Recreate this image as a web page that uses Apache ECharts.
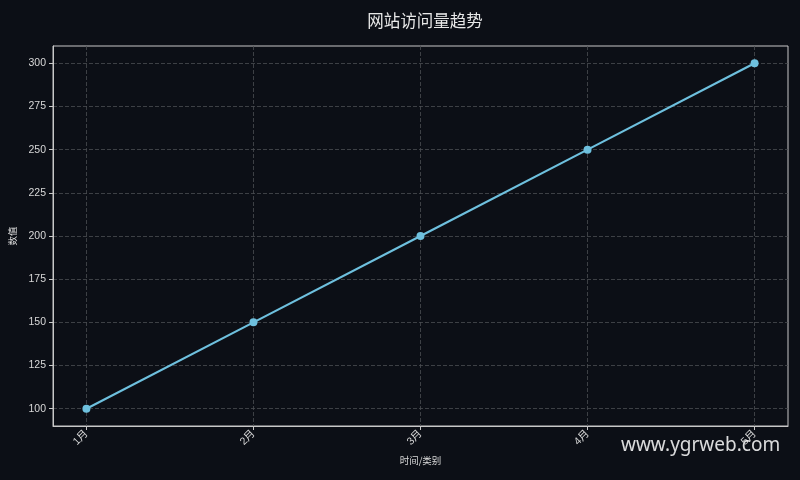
<!DOCTYPE html>
<html>
<head>
<meta charset="utf-8">
<script src="https://cdn.jsdelivr.net/npm/echarts@6/dist/echarts.min.js"></script>
<style>
html,body{margin:0;padding:0;background:#0c0f16;}
#main{width:800px;height:480px;}
</style>
</head>
<body>
<div id="main"></div>
<script>
const categories = ['1月', '2月', '3月', '4月', '5月'];
const values = [100, 150, 200, 250, 300];
const yTicks = [100, 125, 150, 175, 200, 225, 250, 275, 300];

const chart = echarts.init(document.getElementById('main'));
const fontFam = 'Liberation Sans, "Noto Sans CJK SC", sans-serif';
const xIdx = categories.map((c, i) => i);
chart.setOption({
  backgroundColor: '#0c0f16',
  animation: false,
  title: {
    text: '网站访问量趋势',
    left: 420, top: 7, textAlign: 'center',
    textStyle: { color: '#e8e8e8', fontSize: 16.5, fontWeight: 'normal', fontFamily: '"Noto Sans CJK SC", sans-serif' }
  },
  grid: { left: 53, right: 12, top: 46, bottom: 54, show: true, borderColor: '#c8c8c8', borderWidth: 1, backgroundColor: 'transparent' },
  xAxis: {
    type: 'value', min: -0.2, max: 4.2,
    name: '时间/类别', nameLocation: 'middle', nameGap: 30,
    nameTextStyle: { color: '#d8d8d8', fontSize: 9.5, fontFamily: '"Noto Sans CJK SC", sans-serif' },
    axisLine: { show: true, onZero: false, lineStyle: { color: '#c8c8c8' } },
    axisTick: { show: true, length: 4, lineStyle: { color: '#c8c8c8' }, customValues: xIdx },
    axisLabel: {
      color: '#d8d8d8', fontSize: 10.5, rotate: 45, margin: 6, fontFamily: fontFam,
      customValues: xIdx,
      formatter: v => categories[Math.round(v)]
    },
    splitLine: { show: true, lineStyle: { color: '#4a4d52', type: [4, 2], width: 0.8 } }
  },
  yAxis: {
    type: 'value', min: 90, max: 310,
    name: '数值', nameLocation: 'middle', nameGap: 30, nameRotate: 90,
    nameTextStyle: { color: '#d8d8d8', fontSize: 9.5, fontFamily: '"Noto Sans CJK SC", sans-serif' },
    axisLine: { show: true, onZero: false, lineStyle: { color: '#c8c8c8' } },
    axisTick: { show: true, length: 4, lineStyle: { color: '#c8c8c8' }, customValues: yTicks },
    axisLabel: { color: '#d8d8d8', fontSize: 10.5, margin: 7, fontFamily: fontFam, customValues: yTicks },
    splitLine: { show: true, lineStyle: { color: '#4a4d52', type: [4, 2], width: 0.8 } }
  },
  graphic: [{
    type: 'text', left: 621, top: 436,
    style: { text: 'www.ygrweb.com', fill: 'rgba(255,255,255,0.85)', fontSize: 19, fontFamily: '"Noto Sans", sans-serif' },
    z: 100
  }],
  series: [{
    type: 'line',
    data: values.map((v, i) => [i, v]),
    symbol: 'circle', symbolSize: 8,
    lineStyle: { color: '#6ec0de', width: 2.2 },
    itemStyle: { color: '#6ec0de' }
  }]
});
</script>
</body>
</html>
